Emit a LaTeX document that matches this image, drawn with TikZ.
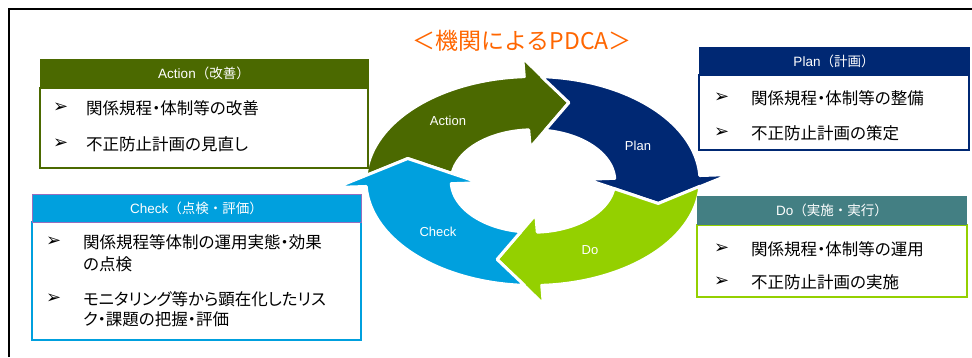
\documentclass[tikz,border=0pt]{standalone}
\usepackage{fontspec}
\setmainfont{Noto Sans CJK JP}
\newfontfamily\jpp[RawFeature=+palt]{Noto Sans CJK JP}
\newfontfamily\dejavu{DejaVu Sans}
\newfontfamily\lat{Liberation Sans}
\definecolor{actgreen}{RGB}{75,105,0}
\definecolor{plannavy}{RGB}{0,40,115}
\definecolor{dolime}{RGB}{148,208,0}
\definecolor{checkcyan}{RGB}{0,160,222}
\definecolor{doteal}{RGB}{67,127,131}
\definecolor{titleorange}{RGB}{255,102,0}
\definecolor{hdrpurple}{RGB}{150,110,190}
\begin{document}
\begin{tikzpicture}[x=1pt,y=-1pt,
  hdr/.style={rectangle, inner sep=0pt, text=white, font=\fontsize{13.5}{15}\selectfont},
  bodybox/.style={rectangle, inner sep=0pt, fill=white},
  btext/.style={anchor=west, inner sep=0pt, font=\jpp\fontsize{16.5}{19}\selectfont},
  bul/.style={anchor=west, inner sep=0pt, font=\dejavu\fontsize{18}{19}\selectfont},
  arrowlab/.style={inner sep=0pt, text=white, font=\lat\fontsize{13}{15}\selectfont},
  ring/.style={draw=white, line width=3pt, line join=round}]
\useasboundingbox (0,0) rectangle (972,357);
\fill[white] (0,0) rectangle (972,357);
% frame
\draw[line width=2pt] (8.5,357) -- (8.5,9) -- (972,9);
% title
\node[inner sep=0pt, text=titleorange, font=\fontsize{23}{27}\selectfont] (title) at (522,41) {＜機関によるPDCA＞};
% cycle
\begin{scope}[shift={(533,181)}, x={(167pt,0pt)}, y={(0pt,104.5pt)}]
\foreach \B/\col in {93/actgreen, 3/plannavy, -87/dolime, -177/checkcyan} {
  \pgfmathsetmacro\P{\B+90}
  \pgfmathsetmacro\Pa{\P-5.91}
  \pgfmathsetmacro\Pb{\P-11.5}
  \pgfmathsetmacro\Pt{\P-19}
  \pgfmathsetmacro\Bt{\B-19}
  \filldraw[ring, fill=\col] (\Pa:1) -- plot[domain=\Pa:\B, samples=40] (\x:1) -- (\B:1.18) -- (\Bt:0.78) -- (\B:0.32) -- (\B:0.49) -- plot[domain=\B:\Pb, samples=40] (\x:0.49) -- (\Pt:0.78) -- cycle;
}
\end{scope}
\node[arrowlab] (lact) at (448,121) {Action};
\node[arrowlab] (lplan) at (638,146) {Plan};
\node[arrowlab] (ldo) at (590,250) {Do};
\node[arrowlab] (lcheck) at (438,232) {Check};
% Action box
\node[bodybox, draw=actgreen, line width=2pt, minimum width=328pt, minimum height=80pt] (abody) at (204,128) {};
\node[hdr, fill=actgreen, minimum width=329pt, minimum height=29pt] (ahdr) at (204,73.5) {{\lat Action}（改善）};
\node[bul] (ab1) at (53,108) {➢};
\node[btext] (ab1t) at (86,108) {関係規程・体制等の改善};
\node[bul] (ab2) at (53,144) {➢};
\node[btext] (ab2t) at (86,144) {不正防止計画の見直し};
% Plan box
\node[bodybox, draw=plannavy, line width=1.6pt, minimum width=270pt, minimum height=75pt] (pbody) at (834,112.5) {};
\node[hdr, fill=plannavy, minimum width=271pt, minimum height=28pt] (phdr) at (834,61) {{\lat Plan}（計画）};
\node[bul] (pb1) at (714,98) {➢};
\node[btext] (pb1t) at (751,98) {関係規程・体制等の整備};
\node[bul] (pb2) at (714,133) {➢};
\node[btext] (pb2t) at (751,133) {不正防止計画の策定};
% Check box
\node[bodybox, draw=checkcyan, line width=2pt, minimum width=329pt, minimum height=118pt] (cbody) at (196.5,281) {};
\node[hdr, fill=checkcyan, draw=hdrpurple, line width=0.6pt, minimum width=329pt, minimum height=28pt] (chdr) at (196.5,208) {{\lat Check}（点検・評価）};
\node[bul] (cb1) at (46,242) {➢};
\node[btext] (cb1t) at (83,242) {関係規程等体制の運用実態・効果};
\node[btext] (cb1u) at (83,264) {の点検};
\node[bul] (cb2) at (46,299) {➢};
\node[btext] (cb2t) at (83,299) {モニタリング等から顕在化したリス};
\node[btext] (cb2u) at (83,319) {ク・課題の把握・評価};
% Do box
\node[bodybox, draw=dolime, line width=2.5pt, minimum width=270pt, minimum height=72pt] (dbody) at (832,261) {};
\node[hdr, fill=doteal, minimum width=270pt, minimum height=29pt] (dhdr) at (832,210.5) {{\lat Do}（実施・実行）};
\node[bul] (db1) at (714,249) {➢};
\node[btext] (db1t) at (751,249) {関係規程・体制等の運用};
\node[bul] (db2) at (714,282) {➢};
\node[btext] (db2t) at (751,282) {不正防止計画の実施};
\end{tikzpicture}
\end{document}
